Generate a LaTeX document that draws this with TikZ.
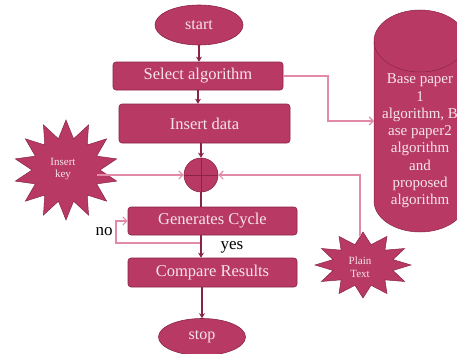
\documentclass[tikz,border=0pt]{standalone}
\usepackage{fontspec}
\setmainfont{Liberation Serif}
\usetikzlibrary{arrows.meta,shapes.geometric}
\definecolor{magfill}{HTML}{B83A64}
\definecolor{magdark}{HTML}{8A2447}
\definecolor{maglink}{HTML}{E28AA8}
\definecolor{magtext}{HTML}{F6E4EC}
\begin{document}
\begin{tikzpicture}[x=1pt,y=-1pt,
  procbox/.style={draw=magdark,line width=0.6pt,fill=magfill,rounded corners=3pt,
    text=magtext,font=\fontsize{16.5}{19}\selectfont,inner sep=0pt},
  termnode/.style={ellipse,draw=magdark,line width=0.6pt,fill=magfill,
    text=magtext,font=\fontsize{16}{19}\selectfont,inner sep=0pt},
  darkarrow/.style={draw=magdark,line width=1.6pt,-{Stealth[length=5pt,width=6pt]}},
  darkline/.style={draw=magdark,line width=1.6pt},
  pinkarrow/.style={draw=maglink,line width=1.2pt,-{Straight Barb[length=4pt,width=8pt]}},
  starsty/.style={draw=magdark,line width=0.5pt,fill=magfill},
  smalltxt/.style={text=magtext,font=\fontsize{11}{12.5}\selectfont,align=center},
  lbl/.style={text=black,font=\fontsize{17}{19}\selectfont}]
\useasboundingbox (0,0) rectangle (457,353);
\clip (0,0) rectangle (457,353);
\fill[white] (0,0) rectangle (457,353);

% cylinder
\draw[starsty] (374,41) -- (374,201) arc[start angle=180,end angle=0,x radius=46,y radius=31]
  -- (466,41) arc[start angle=0,end angle=-180,x radius=46,y radius=31] -- cycle;
\draw[draw=magdark,line width=0.5pt] (374,41) arc[start angle=180,end angle=0,x radius=46,y radius=31];
\node[text=magtext,font=\fontsize{15}{17.3}\selectfont,align=center] (cyl) at (420,141)
  {Base paper\\1\\algorithm, B\\ase paper2\\algorithm\\and\\proposed\\algorithm};
\coordinate (cylL) at (374,121);

% stars
\draw[starsty] plot[samples at={0,...,27},variable=\k]
  ({66+ifthenelse(mod(\k,2)==0,52,34)*cos(90+\k*360/28)},
   {170+ifthenelse(mod(\k,2)==0,50,32)*sin(90+\k*360/28)}) -- cycle;
\node[smalltxt] (ik) at (63,169) {Insert\\key};
\coordinate (ikR) at (97,175);
\draw[starsty] plot[samples at={0,...,23},variable=\k]
  ({363+ifthenelse(mod(\k,2)==0,48,31)*cos(90+\k*360/24)},
   {265+ifthenelse(mod(\k,2)==0,33,21)*sin(90+\k*360/24)}) -- cycle;
\node[smalltxt] (pt) at (360,267) {Plain\\Text};
\coordinate (ptTop) at (360,236);

% flow nodes
\node[termnode,minimum width=88,minimum height=40] (start) at (199,25) {start};
\node[procbox,minimum width=170,minimum height=28] (sel) at (198,76) {Select algorithm};
\node[procbox,minimum width=171,minimum height=39] (ins) at (204.5,123.5) {Insert data};
\node[circle,draw=magdark,line width=0.6pt,fill=magfill,minimum size=34,inner sep=0pt] (sum) at (201,175) {};
\draw[draw=magdark,line width=0.8pt] (sum.north) -- (sum.south) (sum.west) -- (sum.east);
\node[procbox,minimum width=169,minimum height=28] (gen) at (212.5,221) {Generates Cycle};
\node[procbox,minimum width=169,minimum height=29] (cmp) at (212.5,272.5) {Compare Results};
\node[termnode,minimum width=87,minimum height=37] (stop) at (202,337) {stop};

% dark connectors
\draw[darkarrow] (start.south) -- (start.south |- sel.north);
\draw[darkarrow] (sel.south) -- (sel.south |- ins.north);
\draw[darkarrow] (sum.north |- ins.south) -- (sum.north);
\draw[darkline] (sum.south) -- (sum.south |- gen.north);
\draw[darkarrow] (sum.south |- gen.south) -- (sum.south |- cmp.north);
\draw[darkarrow] (stop.north |- cmp.south) -- (stop.north);

% pink connectors
\coordinate (nostart) at (200,243);
\draw[pinkarrow] (nostart) -- (116,243) |- (gen.west);
\draw[pinkarrow] (ikR) -- (sum.west);
\draw[pinkarrow] (ptTop) |- (sum.east);
\draw[pinkarrow] (sel.east) -- (sel.east -| 328,0) |- (cylL);

% labels
\node[lbl] (no) at (104,232) {no};
\node[lbl] (yes) at (232,247) {yes};
\end{tikzpicture}
\end{document}
